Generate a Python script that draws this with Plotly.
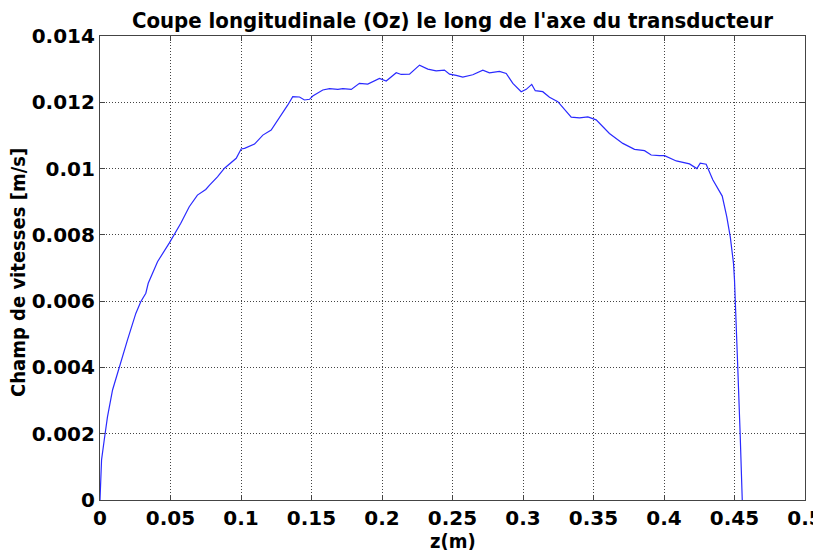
import plotly.graph_objects as go

z_m = [0.0, 0.0011, 0.0030, 0.0053, 0.0089, 0.0136, 0.0195, 0.0254, 0.0289, 0.0325,
       0.0342, 0.0408, 0.0491, 0.0573, 0.0633, 0.0691, 0.0750, 0.0777, 0.0833, 0.0883,
       0.0966, 0.1001, 0.1025, 0.1096, 0.1155, 0.1214, 0.1296, 0.1332, 0.1367, 0.1415,
       0.1450, 0.1486, 0.1509, 0.1580, 0.1628, 0.1687, 0.1722, 0.1782, 0.1840, 0.1899,
       0.1982, 0.2030, 0.2101, 0.2136, 0.2195, 0.2266, 0.2325, 0.2384, 0.2443, 0.2479,
       0.2526, 0.2573, 0.2644, 0.2715, 0.2762, 0.2833, 0.2881, 0.2928, 0.2987, 0.3023,
       0.3062, 0.3087, 0.3140, 0.3188, 0.3247, 0.3294, 0.3342, 0.3401, 0.3460, 0.3519,
       0.3613, 0.3708, 0.3791, 0.3862, 0.3909, 0.3968, 0.4004, 0.4087, 0.4181, 0.4233,
       0.4257, 0.4299, 0.4346, 0.4413, 0.4445, 0.4470, 0.4493, 0.4500, 0.4507, 0.4523,
       0.4540, 0.4555]

vitesse = [0.0, 0.00121, 0.00181, 0.00251, 0.00332, 0.00402, 0.00483, 0.00563, 0.00598, 0.00624,
           0.00654, 0.00719, 0.00775, 0.00835, 0.00885, 0.00920, 0.00937, 0.00950, 0.00975, 0.01001,
           0.01031, 0.01059, 0.01061, 0.01074, 0.01101, 0.01116, 0.01167, 0.01192, 0.01217, 0.01216,
           0.01207, 0.01209, 0.01219, 0.01237, 0.01241, 0.01239, 0.01241, 0.01239, 0.01257, 0.01255,
           0.01272, 0.01264, 0.01289, 0.01284, 0.01285, 0.01312, 0.01300, 0.01295, 0.01297, 0.01285,
           0.01281, 0.01276, 0.01283, 0.01297, 0.01289, 0.01293, 0.01287, 0.01257, 0.01232, 0.01239,
           0.01254, 0.01235, 0.01232, 0.01215, 0.01202, 0.01179, 0.01155, 0.01153, 0.01156, 0.01147,
           0.01106, 0.01076, 0.01058, 0.01054, 0.01041, 0.01039, 0.01039, 0.01023, 0.01014, 0.01000,
           0.01016, 0.01013, 0.00966, 0.00917, 0.00855, 0.00794, 0.00714, 0.00664, 0.00563, 0.00402,
           0.00201, 0.0]

x_ticks = [0, 0.05, 0.1, 0.15, 0.2, 0.25, 0.3, 0.35, 0.4, 0.45, 0.5]
x_tick_labels = ["0", "0.05", "0.1", "0.15", "0.2", "0.25", "0.3", "0.35", "0.4", "0.45", "0.5"]
y_ticks = [0, 0.002, 0.004, 0.006, 0.008, 0.01, 0.012, 0.014]
y_tick_labels = ["0", "0.002", "0.004", "0.006", "0.008", "0.01", "0.012", "0.014"]

cond = "DejaVu Sans Condensed, Liberation Sans Narrow, DejaVu Sans"
tickfont = dict(family="DejaVu Sans", size=20, color="black", weight="bold")

# page body has an 8px margin, so the figure is sized to fill the rest of the window
W, H = 813, 542

fig = go.Figure()
fig.add_trace(go.Scatter(x=z_m, y=vitesse, mode="lines",
                         line=dict(color="#2a2aff", width=1.2), showlegend=False))

axis_common = dict(showline=True, linecolor="#444444", linewidth=1.2, mirror="ticks",
                   ticks="inside", ticklen=5, tickcolor="#444444",
                   showgrid=True, gridcolor="#444444", griddash="1px,2px", gridwidth=1,
                   zeroline=False, tickfont=tickfont, automargin=False,
                   ticklabeloverflow="allow")

fig.update_xaxes(range=[0, 0.5], tickvals=x_ticks, ticktext=x_tick_labels, **axis_common)
fig.update_yaxes(range=[0, 0.014], tickvals=y_ticks, ticktext=y_tick_labels, **axis_common)

fig.add_annotation(text="z(m)", xref="paper", yref="paper", x=0.5, y=0,
                   yshift=-41, showarrow=False, yanchor="middle",
                   font=dict(family=cond, size=20, color="black", weight="bold"))
fig.add_annotation(text="Champ de vitesses [m/s]", xref="paper", yref="paper", x=0, y=0.5,
                   xshift=-82, yshift=-5, showarrow=False, textangle=-90,
                   xanchor="center", yanchor="middle",
                   font=dict(family=cond, size=20, color="black", weight="bold"))

fig.update_layout(
    width=W, height=H,
    margin=dict(l=92, r=16, t=28, b=50),
    paper_bgcolor="white", plot_bgcolor="white",
    title=dict(text="Coupe longitudinale (Oz) le long de l'axe du transducteur",
               font=dict(family=cond, size=22, color="black", weight="bold"),
               x=0.5, xref="paper", yref="container", y=1 - 12 / H, yanchor="middle"),
)

fig.write_html("out.html")
